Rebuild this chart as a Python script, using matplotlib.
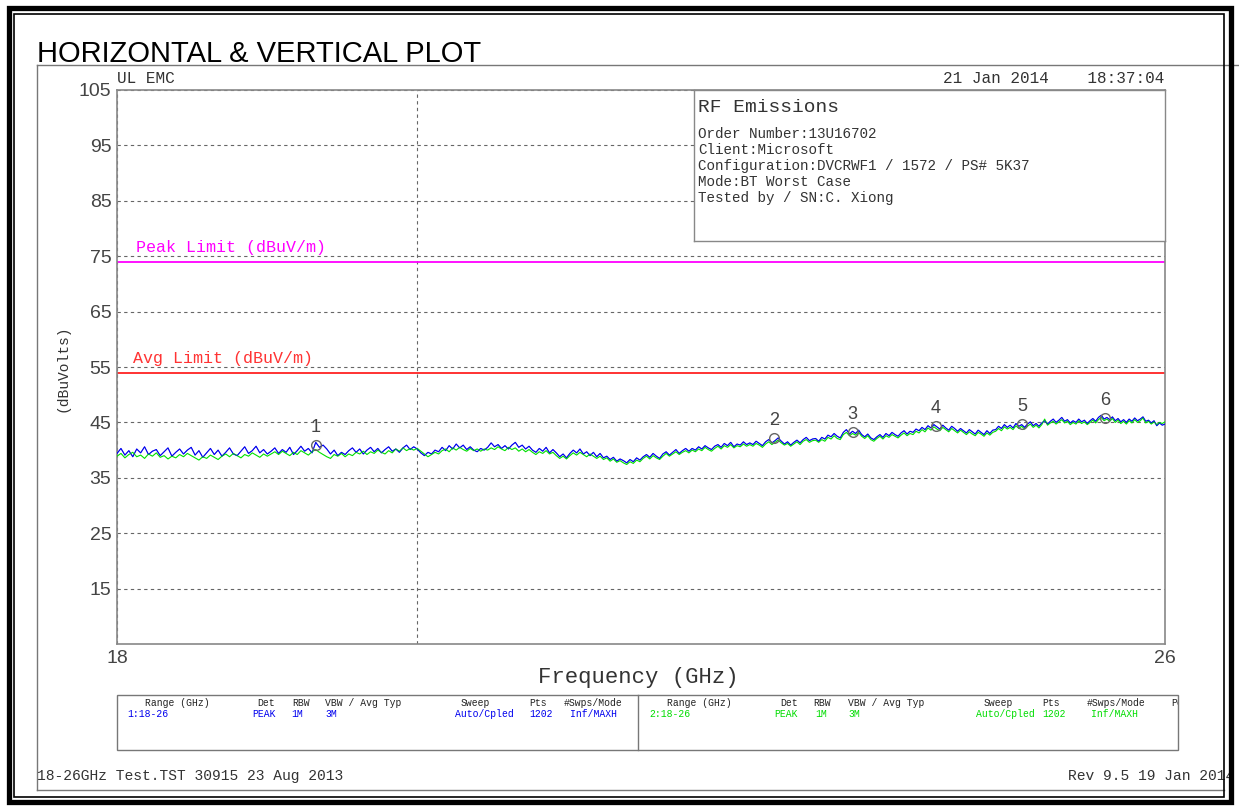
import numpy as np
import matplotlib
matplotlib.use("Agg")
import matplotlib.pyplot as plt
from matplotlib.patches import Rectangle
from matplotlib.ticker import NullFormatter, NullLocator

# trace 1 (blue) and trace 2 (green), read every 0.025 GHz from 18 to 26 GHz
trace1 = [
    39.4, 40.3, 39.1, 39.9, 38.8, 40.2, 39.5, 40.6, 39.2, 39.8, 40.1, 39.0, 39.7, 40.4, 38.9, 39.6, 40.2, 39.3, 40.0, 40.5,
    39.1, 39.9, 38.7, 39.5, 40.3, 39.2, 40.0, 38.9, 39.6, 40.4, 39.3, 39.0, 39.8, 40.6, 39.4, 39.9, 40.7, 39.5, 40.1, 39.3,
    39.8, 40.4, 39.4, 40.1, 39.6, 40.5, 39.2, 39.9, 40.7, 39.8, 40.3, 39.5, 41.4, 40.5, 40.9, 40.2, 39.3, 40.0, 39.0, 39.6,
    39.2, 39.9, 40.4, 39.6, 40.2, 39.3, 40.0, 40.5, 39.7, 40.3, 39.5, 40.1, 40.6, 39.8, 40.2, 39.6, 40.4, 40.9, 40.1, 40.6,
    40.2, 39.5, 39.0, 39.6, 39.3, 40.0, 39.7, 40.5, 39.9, 40.8, 40.2, 41.1, 40.4, 40.9, 40.1, 40.6, 40.0, 39.7, 40.3, 40.0,
    40.5, 41.3, 40.6, 41.0, 40.3, 40.8, 40.2, 40.9, 41.4, 40.5, 40.9, 40.2, 40.7, 40.0, 39.6, 40.3, 39.8, 40.5, 39.5, 40.1,
    39.5, 38.8, 39.3, 38.6, 39.4, 40.0, 39.5, 40.2, 39.3, 39.7, 39.0, 39.6, 38.8, 39.4, 38.6, 38.9, 38.3, 38.7, 38.0, 38.4,
    38.1, 37.7, 38.3, 37.9, 38.6, 38.2, 38.8, 39.2, 38.7, 39.4, 38.9, 38.5, 39.3, 39.7, 39.1, 39.6, 40.1, 39.4, 39.9, 40.3,
    39.8, 40.3, 40.0, 40.6, 40.2, 40.8, 40.4, 40.1, 40.7, 41.0, 40.5, 41.2, 40.8, 41.4, 40.6, 41.1, 40.9, 41.5, 41.0, 41.3,
    41.0, 41.6, 41.2, 40.8, 41.5, 41.9, 41.3, 41.7, 42.2, 41.6, 41.1, 41.5, 40.9, 41.4, 41.8, 41.3, 41.9, 42.3, 41.7, 42.0,
    42.1, 41.6, 42.3, 42.0, 42.7, 42.4, 43.0, 42.5, 42.2, 43.2, 43.7, 42.9, 43.4, 43.0, 43.6, 42.8, 42.4, 42.9, 42.2, 41.9,
    42.4, 42.8, 42.3, 43.0, 42.6, 43.2, 42.8, 42.5, 43.1, 43.5, 42.9, 43.4, 43.2, 43.8, 43.5, 44.1, 43.7, 44.4, 44.0, 44.6,
    44.2, 43.8, 44.5, 44.0, 43.6, 44.3, 43.9, 43.4, 43.9, 43.5, 43.1, 43.7, 43.3, 42.9, 43.6, 43.2, 42.8, 43.5, 43.0, 43.6,
    43.7, 44.3, 43.9, 44.6, 44.1, 44.5, 44.0, 44.8, 44.3, 44.6, 44.1, 44.7, 45.1, 44.4, 44.8, 44.3, 44.9, 45.3, 44.7, 45.2,
    45.6, 45.0, 45.4, 45.9, 45.2, 45.5, 44.9, 45.3, 45.0, 45.6, 45.1, 45.4, 44.8, 45.3, 45.7, 45.2, 45.9, 46.3, 45.6, 45.9,
    45.5, 46.0, 45.3, 45.7, 45.1, 45.5, 45.0, 45.6, 45.2, 45.8, 45.3, 45.6, 46.0, 45.2, 45.4, 44.9, 45.3, 44.4, 44.9, 44.5,
    44.7,
]
trace2 = [
    38.9, 39.4, 38.6, 39.2, 39.6, 38.8, 39.1, 38.5, 39.3, 38.9, 39.5, 38.7, 39.0, 38.4, 38.9, 38.6, 39.2, 38.8, 39.4, 39.0,
    38.6, 38.2, 38.8, 38.5, 39.1, 38.7, 38.3, 38.9, 39.3, 38.8, 39.4, 39.0, 38.6, 39.2, 38.9, 39.5, 39.1, 38.7, 39.3, 38.9,
    39.3, 39.7, 39.2, 39.8, 39.4, 39.0, 39.6, 39.2, 39.9, 39.5, 39.1, 39.7, 40.1, 39.6, 39.2, 38.8, 38.5, 39.2, 38.9, 39.4,
    38.8, 39.3, 39.0, 39.6, 39.3, 39.8, 39.2, 39.7, 39.4, 40.0, 39.6, 39.3, 39.9, 39.5, 40.2, 39.8, 40.4, 39.9, 40.3, 40.0,
    40.3, 39.8, 39.3, 38.8, 39.2, 39.6, 39.3, 39.9, 40.2, 39.7, 40.4, 40.0, 40.5, 40.1, 39.8, 40.3, 39.9, 40.2, 39.8, 40.2,
    40.0, 40.4, 40.1, 40.6, 40.2, 39.9, 40.5, 40.1, 40.4, 39.8, 40.2, 39.7, 40.1, 39.6, 39.2, 39.7, 39.4, 39.9, 39.3, 39.6,
    39.0, 38.5, 38.9, 38.4, 39.0, 39.5, 39.1, 39.6, 39.2, 38.8, 39.3, 38.9, 38.5, 38.9, 38.3, 38.6, 38.0, 38.4, 37.8, 38.1,
    37.7, 37.4, 37.9, 37.6, 38.2, 37.9, 38.5, 38.9, 38.4, 39.0, 38.6, 38.3, 38.9, 39.4, 38.9, 39.3, 39.7, 39.2, 39.6, 39.9,
    39.5, 40.0, 39.7, 40.2, 39.9, 40.5, 40.1, 39.8, 40.3, 40.7, 40.2, 40.8, 40.5, 41.0, 40.4, 40.8, 40.6, 41.1, 40.7, 41.0,
    40.7, 41.2, 40.9, 40.5, 41.1, 41.5, 41.0, 41.4, 41.8, 41.3, 40.9, 41.2, 40.7, 41.1, 41.5, 41.0, 41.6, 41.9, 41.4, 41.7,
    41.8, 41.4, 41.9, 41.6, 42.3, 42.0, 42.6, 42.1, 41.9, 42.8, 43.2, 42.6, 43.0, 42.7, 43.2, 42.5, 42.1, 42.6, 41.9, 41.6,
    42.1, 42.5, 42.0, 42.6, 42.3, 42.8, 42.5, 42.2, 42.7, 43.1, 42.6, 43.0, 42.8, 43.4, 43.1, 43.7, 43.3, 44.0, 43.6, 44.2,
    43.8, 43.5, 44.1, 43.7, 43.3, 43.9, 43.5, 43.1, 43.6, 43.2, 42.8, 43.3, 42.9, 42.6, 43.2, 42.9, 42.5, 43.1, 42.7, 43.2,
    43.4, 43.9, 43.5, 44.2, 43.8, 44.1, 43.7, 44.4, 43.9, 44.3, 43.8, 44.3, 44.7, 44.1, 44.5, 44.0, 44.6, 45.6, 44.5, 44.9,
    45.2, 44.7, 45.1, 45.5, 44.9, 45.2, 44.6, 45.0, 44.7, 45.3, 44.8, 45.1, 44.6, 45.0, 45.4, 44.9, 45.5, 45.9, 45.3, 45.6,
    45.2, 45.7, 45.0, 45.4, 44.8, 45.2, 44.7, 45.3, 44.9, 45.5, 45.0, 45.3, 45.8, 44.9, 45.2, 44.7, 45.1, 44.6, 45.0, 44.8,
    45.1,
]
f_start, f_stop = 18.0, 26.0

peak_limit = 74.0
avg_limit = 54.0

marker_ids = ["1", "2", "3", "4", "5", "6"]
marker_freq = [19.30, 22.67, 23.30, 23.99, 24.73, 25.46]
marker_level = [41.0, 42.2, 43.3, 44.4, 44.7, 45.8]

y_ticks = [15, 25, 35, 45, 55, 65, 75, 85, 95, 105]

info_lines = [
    "Order Number:13U16702",
    "Client:Microsoft",
    "Configuration:DVCRWF1 / 1572 / PS# 5K37",
    "Mode:BT Worst Case",
    "Tested by / SN:C. Xiong",
]

table_head = ["Range (GHz)", "Det", "RBW", "VBW / Avg Typ", "Sweep", "Pts", "#Swps/Mode"]
table_row1 = ["1:18-26", "PEAK", "1M", "3M", "Auto/Cpled", "1202", "Inf/MAXH"]
table_row2 = ["2:18-26", "PEAK", "1M", "3M", "Auto/Cpled", "1202", "Inf/MAXH"]

MONO = "Liberation Mono"
SANS = "Liberation Sans"
W, H = 1239, 810

fig = plt.figure(figsize=(W / 100, H / 100), dpi=100)
fig.patch.set_facecolor("white")

# overlay in pixel coordinates for frame and annotations
ov = fig.add_axes([0, 0, 1, 1])
ov.set_xlim(0, W)
ov.set_ylim(H, 0)
ov.axis("off")

ov.add_patch(Rectangle((9, 8), 1222, 794, fill=False, ec="black", lw=3.8, zorder=10))
ov.add_patch(Rectangle((14, 14), 1210, 783, fill=False, ec="black", lw=1.2, zorder=10))
ov.plot([37, 1239], [65, 65], color="#777777", lw=1)
ov.plot([37, 37], [65, 790], color="#777777", lw=1)
ov.plot([37, 1224], [790, 790], color="#777777", lw=1)

ov.text(37, 62, "HORIZONTAL & VERTICAL PLOT", family=SANS, fontsize=21, color="black", va="baseline")
ov.text(117, 83, "UL EMC", family=MONO, fontsize=11.5, color="#333333", va="baseline")
ov.text(1164, 83, "21 Jan 2014    18:37:04", family=MONO, fontsize=11.5, color="#333333",
        va="baseline", ha="right")
ov.text(62, 368, "(dBuVolts)", family=MONO, fontsize=10.5, color="#333333",
        rotation=90, ha="center", va="center")
ov.text(638, 678, "Frequency (GHz)", family=MONO, fontsize=16, color="#333333",
        ha="center", va="center")
ov.text(37, 780, "18-26GHz Test.TST 30915 23 Aug 2013", family=MONO, fontsize=10.5,
        color="#333333", va="baseline")
ov.text(1068, 780, "Rev 9.5 19 Jan 2014", family=MONO, fontsize=10.5, color="#333333",
        va="baseline", zorder=5)

# settings table
tbl = Rectangle((117, 695), 1061, 55, fill=False, ec="#777777", lw=1)
ov.add_patch(tbl)
ov.plot([638, 638], [695, 750], color="#777777", lw=1)
head_x1 = [145, 257, 292, 325, 461, 529, 564]
val_x1 = [127, 252, 291, 325, 455, 529, 570]
head_x2 = [667, 780, 813, 848, 984, 1042, 1087]
val_x2 = [649, 774, 815, 848, 976, 1042, 1091]
for hx, vx, h, v in zip(head_x1, val_x1, table_head, table_row1):
    ov.text(hx, 706, h, family=MONO, fontsize=7, color="#222222", va="baseline")
    ov.text(vx, 717, v, family=MONO, fontsize=7, color="#0000ee", va="baseline")
for hx, vx, h, v in zip(head_x2, val_x2, table_head, table_row2):
    ov.text(hx, 706, h, family=MONO, fontsize=7, color="#222222", va="baseline")
    ov.text(vx, 717, v, family=MONO, fontsize=7, color="#00dd00", va="baseline")
po = ov.text(1171, 706, "Pol", family=MONO, fontsize=7, color="#222222", va="baseline")
po.set_clip_on(True)
po.set_clip_path(tbl)

# main plot
ax = fig.add_axes([117 / W, 1 - 644 / H, 1048 / W, 554 / H])
freq1 = np.linspace(f_start, f_stop, len(trace1))
freq2 = np.linspace(f_start, f_stop, len(trace2))
ax.plot(freq1, trace1, color="#0000ee", lw=0.8, zorder=3)
ax.plot(freq2, trace2, color="#00e000", lw=0.8, zorder=4)
ax.plot(freq1, trace1, color="#0000ee", lw=0.6, alpha=0.5, zorder=5)

ax.axhline(peak_limit, color="#ff00ff", lw=1.3, zorder=2)
ax.axhline(avg_limit, color="#ff2222", lw=1.3, zorder=2)
ax.text(18.12, peak_limit + 1.8, "Peak Limit (dBuV/m)", family=MONO, fontsize=12,
        color="#ff00ff", va="baseline")
ax.text(18.1, avg_limit + 1.8, "Avg Limit (dBuV/m)", family=MONO, fontsize=12,
        color="#ff3333", va="baseline")

ax.plot(marker_freq, marker_level, linestyle="none", marker="o", ms=7, mfc="none",
        mec="#666666", mew=1.0, zorder=6)
for mid, mf, ml in zip(marker_ids, marker_freq, marker_level):
    ax.annotate(mid, (mf, ml), xytext=(0, 9), textcoords="offset pixels", ha="center",
                va="bottom", family=SANS, fontsize=13, color="#444444", zorder=7)

ax.set_xscale("log")
ax.set_xlim(f_start, f_stop)
ax.set_ylim(5, 105)
ax.set_xticks([18, 20, 26])
ax.set_xticklabels(["18", "", "26"])
ax.xaxis.set_minor_locator(NullLocator())
ax.xaxis.set_minor_formatter(NullFormatter())
ax.set_yticks(y_ticks)
ax.set_yticklabels([str(v) for v in y_ticks])
ax.tick_params(length=0, labelsize=14, labelcolor="#444444", pad=4)
for lbl in ax.get_xticklabels() + ax.get_yticklabels():
    lbl.set_family(SANS)
ax.grid(True, linestyle=(0, (3, 3)), color="#666666", lw=0.8)
for sp in ax.spines.values():
    sp.set_color("#888888")
    sp.set_linewidth(1.2)

# info box
box = fig.add_axes([694 / W, 1 - 241 / H, 471 / W, 151 / H])
box.set_facecolor("white")
box.set_xticks([])
box.set_yticks([])
for sp in box.spines.values():
    sp.set_color("#888888")
    sp.set_linewidth(1.0)
box.text(4 / 471, 1 - 17 / 151, "RF Emissions", family=MONO, fontsize=14, color="#333333",
         transform=box.transAxes, va="center")
for i, line in enumerate(info_lines):
    box.text(4 / 471, 1 - (44 + 16 * i) / 151, line, family=MONO, fontsize=10.3,
             color="#333333", transform=box.transAxes, va="center")

fig.savefig("out.png", dpi=100)
